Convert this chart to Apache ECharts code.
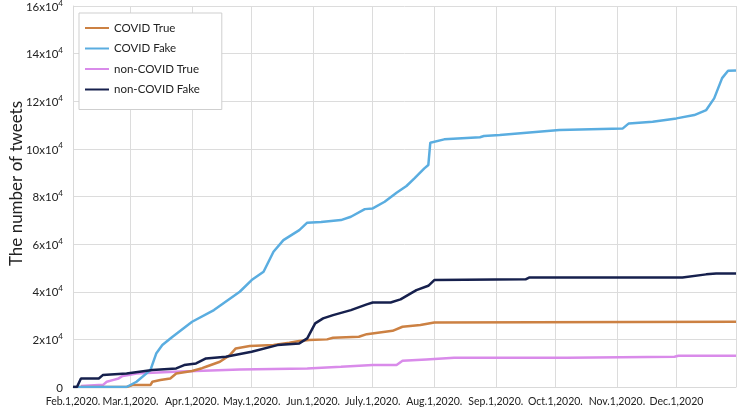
<!DOCTYPE html>
<html><head><meta charset="utf-8">
<script src="https://cdn.jsdelivr.net/npm/echarts@6/dist/echarts.min.js"></script>
<style>html,body{margin:0;padding:0;background:#fff}#c{width:740px;height:408px}</style>
</head><body><div id="c"></div>
<script>
const seriesNames = ['COVID True', 'COVID Fake', 'non-COVID True', 'non-COVID Fake'];
const seriesColors = ['#cc8143', '#5aade0', '#d98bea', '#16204d'];
const startDate = '2020-02-01';
const endDate = '2020-12-31';
const monthTickDates = ['2020-02-01','2020-03-01','2020-04-01','2020-05-01','2020-06-01','2020-07-01','2020-08-01','2020-09-01','2020-10-01','2020-11-01','2020-12-01'];
const monthTickLabels = ['Feb.1,2020.','Mar.1,2020.','Apr.1,2020.','May.1,2020.','Jun.1,2020.','July.1,2020.','Aug.1,2020.','Sep.1,2020.','Oct.1,2020.','Nov.1,2020.','Dec.1,2020'];
const yTickValues = [0, 20000, 40000, 60000, 80000, 100000, 120000, 140000, 160000];
const yTickMantissa = ['0', '2', '4', '6', '8', '10', '12', '14', '16'];

const covidTrue = [
  ['2020-02-01',0],['2020-02-28',0],['2020-03-02',800],['2020-03-11',800],['2020-03-12',2200],
  ['2020-03-16',2900],['2020-03-21',3600],['2020-03-24',5700],['2020-04-01',6700],['2020-04-06',7900],
  ['2020-04-08',8500],['2020-04-15',10600],['2020-04-20',13400],['2020-04-23',16200],['2020-04-30',17200],
  ['2020-05-12',17600],['2020-05-20',18600],['2020-05-25',19300],['2020-05-30',19700],['2020-06-08',20000],
  ['2020-06-11',20700],['2020-06-24',21100],['2020-06-28',22200],['2020-07-11',23600],['2020-07-16',25300],
  ['2020-07-25',26000],['2020-08-01',27100],['2020-12-31',27400]
];
const covidFake = [
  ['2020-02-01',0],['2020-02-28',0],['2020-03-04',2200],['2020-03-11',7100],['2020-03-14',14200],
  ['2020-03-17',17600],['2020-03-22',21000],['2020-04-01',27400],['2020-04-12',32300],['2020-04-25',40000],
  ['2020-05-01',44900],['2020-05-07',48400],['2020-05-12',56800],['2020-05-17',61700],['2020-05-25',65900],
  ['2020-05-29',69000],['2020-06-05',69300],['2020-06-15',70100],['2020-06-20',71500],['2020-06-27',74700],
  ['2020-07-01',75000],['2020-07-07',77800],['2020-07-13',81600],['2020-07-18',84400],['2020-07-22',87600],
  ['2020-07-27',91800],['2020-07-29',93200],['2020-07-30',102600],['2020-08-06',104000],['2020-08-24',104900],
  ['2020-08-26',105400],['2020-09-03',105800],['2020-10-03',107900],['2020-11-04',108600],['2020-11-07',110700],
  ['2020-11-19',111400],['2020-12-01',112800],['2020-12-10',114200],['2020-12-16',116300],['2020-12-20',121200],
  ['2020-12-24',129700],['2020-12-27',132800],['2020-12-31',132900]
];
const nonCovidTrue = [
  ['2020-02-05',400],['2020-02-14',800],['2020-02-16',800],['2020-02-18',2200],['2020-02-21',2900],
  ['2020-02-24',3600],['2020-02-26',4600],['2020-02-29',5000],['2020-03-04',5700],['2020-03-23',6400],
  ['2020-04-25',7400],['2020-05-29',7800],['2020-06-15',8500],['2020-07-01',9200],['2020-07-13',9200],
  ['2020-07-16',11000],['2020-07-28',11600],['2020-08-01',11800],['2020-08-11',12300],['2020-10-07',12300],
  ['2020-11-30',12700],['2020-12-02',13100],['2020-12-31',13100]
];
const nonCovidFake = [
  ['2020-02-01',0],['2020-02-03',0],['2020-02-05',3600],['2020-02-14',3600],['2020-02-16',5000],
  ['2020-02-28',5700],['2020-03-12',7100],['2020-03-24',7800],['2020-03-28',9200],['2020-04-03',9900],
  ['2020-04-08',12000],['2020-04-18',12700],['2020-05-01',14800],['2020-05-14',17600],['2020-05-25',18300],
  ['2020-05-29',20400],['2020-06-02',26700],['2020-06-06',28800],['2020-06-11',30200],['2020-06-20',32300],
  ['2020-06-28',34700],['2020-07-01',35500],['2020-07-10',35500],['2020-07-15',36800],['2020-07-16',36800],
  ['2020-07-23',40700],['2020-07-29',42500],['2020-08-01',44900],['2020-09-16',45200],['2020-09-18',46000],
  ['2020-12-04',46000],['2020-12-16',47300],['2020-12-21',47700],['2020-12-31',47700]
];

const DAY = 86400000;
const dayOf = s => Math.round((Date.parse(s) - Date.parse(startDate)) / DAY);
const toXY = arr => arr.map(p => [dayOf(p[0]), p[1]]);
const monthTickDays = monthTickDates.map(dayOf);
const endDay = dayOf(endDate);
const allData = [covidTrue, covidFake, nonCovidTrue, nonCovidFake];

const font = 'Lato, "Open Sans", sans-serif';
const chart = echarts.init(document.getElementById('c'), null, {renderer: 'canvas'});
chart.setOption({
  animation: false,
  backgroundColor: '#fff',
  textStyle: {fontFamily: font},
  grid: {left: 73, right: 4, top: 6, bottom: 21, containLabel: false, outerBoundsMode: 'none'},
  legend: {
    orient: 'vertical', left: 79, top: 13,
    data: seriesNames,
    icon: 'rect', itemWidth: 24, itemHeight: 2, itemGap: 6.5,
    padding: [8, 22, 13, 6],
    borderColor: '#cfcfcf', borderWidth: 1, backgroundColor: '#fff',
    textStyle: {fontFamily: font, fontSize: 11.5, color: '#222', lineHeight: 14}
  },
  xAxis: {
    type: 'value', min: 0, max: endDay,
    axisLine: {show: true, lineStyle: {color: '#d9d9d9'}},
    axisTick: {show: false, customValues: monthTickDays.concat([endDay])},
    splitLine: {show: true, lineStyle: {color: '#dcdcdc', width: 1}},
    axisLabel: {
      customValues: monthTickDays,
      showMinLabel: true, hideOverlap: false,
      color: '#222', fontSize: 10.5, fontFamily: font, margin: 9,
      formatter: v => { const i = monthTickDays.indexOf(v); return i >= 0 ? monthTickLabels[i] : ''; }
    }
  },
  yAxis: {
    type: 'value', min: 0, max: 160000, interval: 20000,
    name: 'The number of tweets', nameLocation: 'middle', nameRotate: 90, nameGap: 48,
    nameMoveOverlap: false,
    nameTextStyle: {fontFamily: font, fontSize: 17, color: '#222', padding: [0, 0, 0, 26]},
    axisLine: {show: true, lineStyle: {color: '#d9d9d9'}},
    axisTick: {show: false},
    splitLine: {show: true, lineStyle: {color: '#dcdcdc', width: 1}},
    axisLabel: {
      margin: 10, color: '#222', fontFamily: font,
      formatter: v => { const i = yTickValues.indexOf(v); if (i <= 0) return '{b|0}'; return '{b|' + yTickMantissa[i] + 'x10}{s|4}'; },
      rich: {
        b: {fontSize: 11.5, color: '#222', fontFamily: font, lineHeight: 14, verticalAlign: 'bottom'},
        s: {fontSize: 8, color: '#222', fontFamily: font, lineHeight: 14, verticalAlign: 'top'}
      }
    }
  },
  series: seriesNames.map((n, i) => ({
    name: n, type: 'line', data: toXY(allData[i]),
    showSymbol: false, symbol: 'none', smooth: false,
    lineStyle: {color: seriesColors[i], width: 2.5},
    itemStyle: {color: seriesColors[i]},
    z: [3, 4, 2, 5][i]
  }))
});
</script>
</body></html>
